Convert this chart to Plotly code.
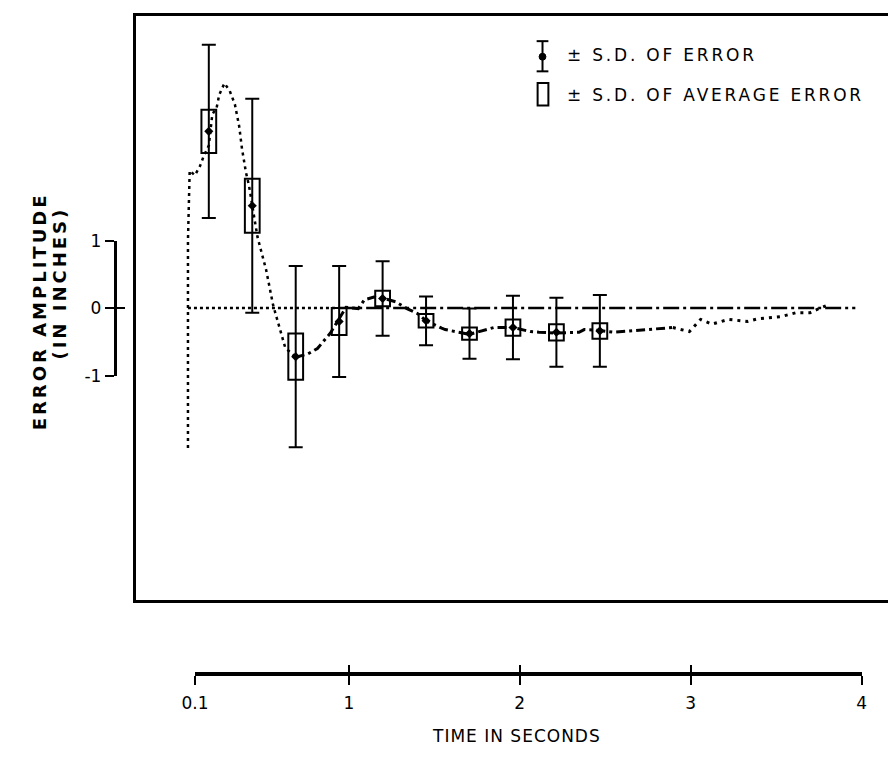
import plotly.graph_objects as go

W, H = 893, 757

# ---------------- data ----------------
times = [0.25, 0.5, 0.75, 1.0, 1.25, 1.5, 1.75, 2.0, 2.25, 2.5]
mean_err = [2.61, 1.51, -0.72, -0.20, 0.14, -0.19, -0.38, -0.29, -0.36, -0.34]
sd_err = [1.28, 1.58, 1.34, 0.82, 0.55, 0.36, 0.37, 0.47, 0.51, 0.53]
sd_avg = [0.32, 0.40, 0.34, 0.20, 0.115, 0.10, 0.09, 0.12, 0.12, 0.115]

# detailed error curve (early part, fine dots)
curve1_t = [0.13, 0.13, 0.14, 0.17, 0.20, 0.22, 0.25, 0.27, 0.295, 0.31, 0.34, 0.37, 0.40,
            0.425, 0.441, 0.464, 0.481, 0.50, 0.53, 0.58, 0.62, 0.69, 0.75]
curve1_v = [-2.07, 1.0, 2.03, 1.96, 2.10, 2.24, 2.40, 2.86, 2.96, 3.15, 3.32, 3.21, 3.01,
            2.68, 2.35, 2.00, 1.81, 1.50, 1.05, 0.56, 0.04, -0.59, -0.73]
# middle part (heavy dash)
curve2_t = [0.75, 0.82, 0.875, 0.92, 0.95, 0.99, 1.04, 1.11, 1.145, 1.20, 1.26, 1.325, 1.39,
            1.455, 1.50, 1.59, 1.61, 1.75, 1.89, 2.0, 2.10, 2.15, 2.24, 2.38, 2.41, 2.49,
            2.58, 2.92]
curve2_v = [-0.73, -0.68, -0.60, -0.46, -0.37, -0.20, 0.01, -0.01, 0.12, 0.16, 0.14, 0.09, -0.01,
            -0.09, -0.19, -0.30, -0.32, -0.39, -0.29, -0.29, -0.35, -0.36, -0.37, -0.36, -0.32, -0.33,
            -0.36, -0.29]
# late part (dots)
curve3_t = [2.92, 3.015, 3.08, 3.145, 3.24, 3.35, 3.41, 3.54, 3.63, 3.71, 3.76, 3.80]
curve3_v = [-0.29, -0.35, -0.17, -0.24, -0.17, -0.20, -0.16, -0.13, -0.07, -0.07, -0.01, 0.03]

# zero reference line
zero_a_t = [0.13, 1.0]
zero_b_t = [1.0, 3.97]

# tick labels
x_ticks = [0.1, 1, 2, 3, 4]
x_ticktext = ["0.1", "1", "2", "3", "4"]
y_ticks = [-1, 0, 1]
y_ticktext = ["-1", "0", "1"]

FONT = "DejaVu Sans"


def px(x):
    return x / W


def py(y):
    return 1 - y / H


def spaced(txt, sp):
    return '<span style="letter-spacing:%spx">%s</span>' % (sp, txt)


fig = go.Figure()

# boxes: +/- S.D. of average error
fig.add_trace(go.Bar(
    x=times, y=[2 * s for s in sd_avg], base=[m - s for m, s in zip(mean_err, sd_avg)],
    width=0.085, marker=dict(color="rgba(0,0,0,0)", line=dict(color="black", width=2)),
    showlegend=False, hoverinfo="skip"))

# curves
fig.add_trace(go.Scatter(x=zero_a_t, y=[0, 0], mode="lines",
                         line=dict(color="black", width=2.5, dash="3px,3px"), showlegend=False))
fig.add_trace(go.Scatter(x=zero_b_t, y=[0, 0], mode="lines",
                         line=dict(color="black", width=2.5, dash="16px,4px,3px,4px"), showlegend=False))
fig.add_trace(go.Scatter(x=curve1_t, y=curve1_v, mode="lines",
                         line=dict(color="black", width=2.5, dash="3px,4px"), showlegend=False))
fig.add_trace(go.Scatter(x=curve2_t, y=curve2_v, mode="lines",
                         line=dict(color="black", width=3, dash="9px,4px,3px,4px"), showlegend=False))
fig.add_trace(go.Scatter(x=curve3_t, y=curve3_v, mode="lines",
                         line=dict(color="black", width=3, dash="3px,5px"), showlegend=False))

# mean error with +/- S.D. of error
fig.add_trace(go.Scatter(
    x=times, y=mean_err, mode="markers",
    marker=dict(color="black", size=7, symbol="diamond"),
    error_y=dict(type="data", array=sd_err, visible=True, color="black", thickness=2, width=7),
    showlegend=False))

# separate scale axes (invisible anchor traces)
fig.add_trace(go.Scatter(x=[0.1, 4], y=[0, 0], xaxis="x2", yaxis="y2", mode="markers",
                         marker=dict(opacity=0), showlegend=False, hoverinfo="skip"))
fig.add_trace(go.Scatter(x=[0.1, 4], y=[0, 0], xaxis="x3", yaxis="y3", mode="markers",
                         marker=dict(opacity=0), showlegend=False, hoverinfo="skip"))

xdom = [px(125), 1.0]
ydom = [py(606), py(6)]
xdom2 = [px(185), px(866)]
ydom2 = [py(376), py(237)]

fig.update_layout(
    width=W, height=H, margin=dict(l=0, r=0, t=0, b=0),
    paper_bgcolor="white", plot_bgcolor="rgba(0,0,0,0)",
    font=dict(family=FONT, color="black"),
    showlegend=False,
    xaxis=dict(domain=xdom, range=[-0.167, 4.158], showline=True, mirror=True, linecolor="black",
               linewidth=3, showgrid=False, zeroline=False, showticklabels=False, ticks=""),
    yaxis=dict(domain=ydom, range=[-4.317, 4.317], showline=True, linecolor="black", linewidth=3,
               showgrid=False, zeroline=False, showticklabels=False, ticks=""),
    xaxis2=dict(domain=xdom2, range=[0.1, 4.0], anchor="free", position=py(682), showline=True,
                linecolor="black", linewidth=4, showgrid=False, zeroline=False,
                tickvals=x_ticks, ticktext=x_ticktext, ticks="outside", ticklen=9, tickwidth=2,
                tickcolor="black", tickfont=dict(size=17, family=FONT), ticklabelstandoff=4),
    xaxis3=dict(domain=xdom2, range=[0.1, 4.0], anchor="free", position=py(682), overlaying="x2",
                showline=False, showgrid=False, zeroline=False, tickvals=x_ticks,
                ticks="inside", ticklen=9, tickwidth=2, tickcolor="black", showticklabels=False),
    yaxis2=dict(domain=ydom2, range=[-1, 1], anchor="free", position=px(103), showline=True,
                linecolor="black", linewidth=3, showgrid=False, zeroline=False,
                tickvals=y_ticks, ticktext=y_ticktext, ticks="outside", ticklen=9, tickwidth=2,
                tickcolor="black", tickfont=dict(size=17, family=FONT)),
    yaxis3=dict(domain=ydom2, range=[-1, 1], anchor="free", position=px(103), overlaying="y2",
                showline=False, showgrid=False, zeroline=False, tickvals=y_ticks,
                ticks="inside", ticklen=9, tickwidth=2, tickcolor="black", showticklabels=False),
)

# axis titles
fig.add_annotation(x=px(513), y=py(746), xref="paper", yref="paper",
                   text=spaced("TIME IN SECONDS", 1),
                   showarrow=False, font=dict(size=17, family=FONT), xanchor="center", yanchor="middle")
fig.add_annotation(x=px(26), y=py(309), xref="paper", yref="paper",
                   text="<b>" + spaced("ERROR AMPLITUDE", 3) + "</b>",
                   showarrow=False, textangle=-90, font=dict(size=18, family=FONT),
                   xanchor="center", yanchor="middle")
fig.add_annotation(x=px(47), y=py(281), xref="paper", yref="paper",
                   text="<b>" + spaced("(IN INCHES)", 3) + "</b>",
                   showarrow=False, textangle=-90, font=dict(size=18, family=FONT),
                   xanchor="center", yanchor="middle")

# legend key
fig.add_shape(type="line", xref="paper", yref="paper", x0=px(540), x1=px(540), y0=py(32), y1=py(63),
              line=dict(color="black", width=2))
fig.add_shape(type="line", xref="paper", yref="paper", x0=px(534), x1=px(546), y0=py(32), y1=py(32),
              line=dict(color="black", width=2))
fig.add_shape(type="line", xref="paper", yref="paper", x0=px(534), x1=px(546), y0=py(63), y1=py(63),
              line=dict(color="black", width=2))
fig.add_shape(type="circle", xref="paper", yref="paper", x0=px(536.5), x1=px(543.5), y0=py(44.5),
              y1=py(51.5), fillcolor="black", line=dict(color="black", width=1))
fig.add_shape(type="rect", xref="paper", yref="paper", x0=px(535), x1=px(546), y0=py(75), y1=py(98),
              line=dict(color="black", width=2))
fig.add_annotation(x=px(563), y=py(46), xref="paper", yref="paper",
                   text=spaced("± S.D. OF ERROR", 2.8),
                   showarrow=False, font=dict(size=17, family=FONT), xanchor="left", yanchor="middle")
fig.add_annotation(x=px(563), y=py(87), xref="paper", yref="paper",
                   text=spaced("± S.D. OF AVERAGE ERROR", 2.8),
                   showarrow=False, font=dict(size=17, family=FONT), xanchor="left", yanchor="middle")

fig.write_html("out.html")
